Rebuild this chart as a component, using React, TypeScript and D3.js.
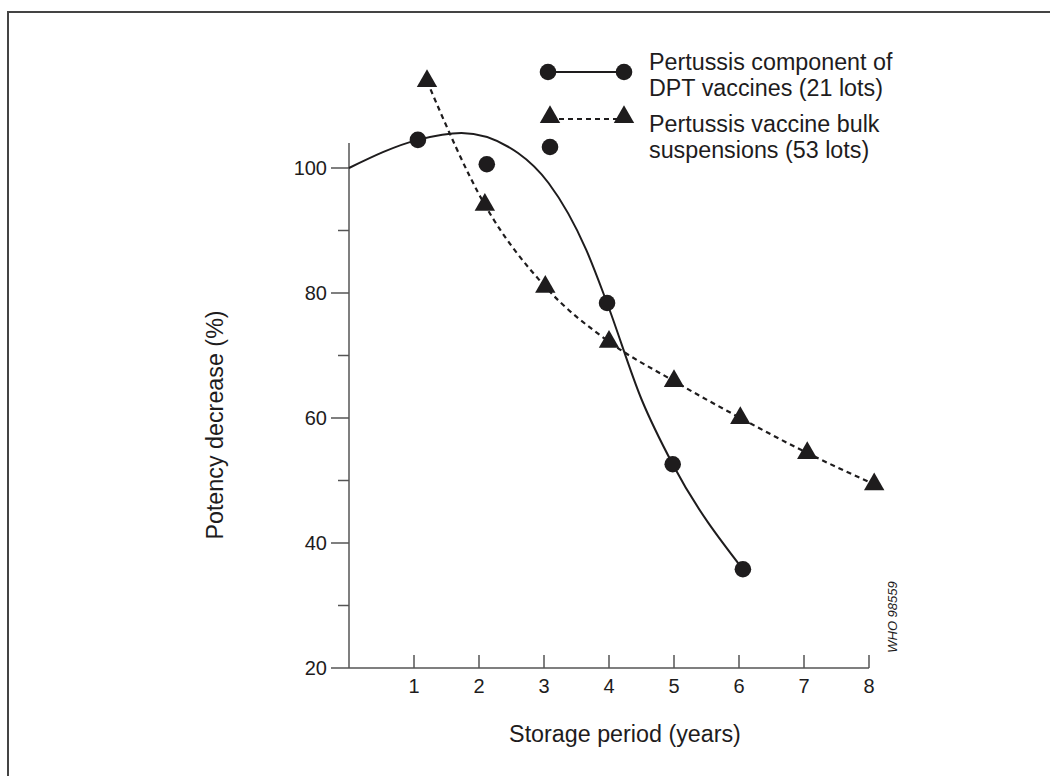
import { useEffect, useRef } from 'react';
import * as d3 from 'd3';

// Axis ticks
const xTicks = [1, 2, 3, 4, 5, 6, 7, 8];
const yMajorTicks = [20, 40, 60, 80, 100];
const yMinorTicks = [30, 50, 70, 90];

// Pertussis component of DPT vaccines (measured points)
const dptYears = [1.06, 2.12, 3.97, 4.98, 6.06];
const dptPotency = [104.5, 100.6, 78.4, 52.6, 35.8];

// Fitted curve drawn through the DPT data
const dptCurveYears = [0, 1.06, 1.73, 2.6, 3.07, 3.65, 3.97, 4.5, 4.98, 6.06];
const dptCurvePotency = [100, 104.5, 105.6, 102.4, 97.6, 86.9, 78.4, 63, 52.6, 35.8];

// Pertussis vaccine bulk suspensions
const bulkYears = [1.2, 2.09, 3.02, 4.0, 5.0, 6.02, 7.05, 8.08];
const bulkPotency = [113.9, 94.1, 81.0, 72.2, 65.9, 60.0, 54.4, 49.4];

const legendLines = [
    ['Pertussis component of', 'DPT vaccines (21 lots)'],
    ['Pertussis vaccine bulk', 'suspensions (53 lots)'],
];

export default function App() {
    const svgRef = useRef<SVGSVGElement>(null);

    useEffect(() => {
        const svg = d3.select(svgRef.current);
        svg.selectAll('*').remove();

        const font = 'Liberation Sans, Arial, Helvetica, sans-serif';
        const ink = '#1e1c1d';
        const axisColor = '#555';

        // Frame (only top and left edges are in view)
        svg.append('path')
            .attr('d', 'M8,1100 L8,12 L1100,12')
            .attr('fill', 'none')
            .attr('stroke', '#444')
            .attr('stroke-width', 2);

        // Scales
        const x = d3.scaleLinear().domain([0, 8]).range([349, 869]);
        const y = d3.scaleLinear().domain([20, 104]).range([668, 143]);

        // Axes
        const axes = svg.append('g').attr('stroke', axisColor).attr('stroke-width', 1.5);
        axes.append('line')
            .attr('x1', x(0)).attr('x2', x(0))
            .attr('y1', y(20)).attr('y2', y(104));
        axes.append('line')
            .attr('x1', x(0)).attr('x2', x(8))
            .attr('y1', y(20)).attr('y2', y(20));

        axes.selectAll('.xtick')
            .data(xTicks)
            .enter()
            .append('line')
            .attr('x1', (d) => x(d)).attr('x2', (d) => x(d))
            .attr('y1', y(20)).attr('y2', y(20) - 13);

        axes.selectAll('.ymajor')
            .data(yMajorTicks)
            .enter()
            .append('line')
            .attr('x1', x(0) - 18).attr('x2', x(0))
            .attr('y1', (d) => y(d)).attr('y2', (d) => y(d));

        axes.selectAll('.yminor')
            .data(yMinorTicks)
            .enter()
            .append('line')
            .attr('x1', x(0) - 11).attr('x2', x(0))
            .attr('y1', (d) => y(d)).attr('y2', (d) => y(d));

        // Tick labels
        svg.selectAll('.xlabel')
            .data(xTicks)
            .enter()
            .append('text')
            .attr('x', (d) => x(d))
            .attr('y', y(20) + 25)
            .attr('text-anchor', 'middle')
            .style('font-family', font)
            .style('font-size', '20px')
            .attr('fill', ink)
            .text((d) => d);

        svg.selectAll('.ylabel')
            .data(yMajorTicks)
            .enter()
            .append('text')
            .attr('x', x(0) - 22)
            .attr('y', (d) => y(d) + 7)
            .attr('text-anchor', 'end')
            .style('font-family', font)
            .style('font-size', '20px')
            .attr('fill', ink)
            .text((d) => d);

        // Axis titles
        svg.append('text')
            .attr('x', 625)
            .attr('y', 742)
            .attr('text-anchor', 'middle')
            .style('font-family', font)
            .style('font-size', '23.3px')
            .attr('fill', ink)
            .text('Storage period (years)');

        svg.append('text')
            .attr('transform', 'translate(223,425) rotate(-90)')
            .attr('text-anchor', 'middle')
            .style('font-family', font)
            .style('font-size', '23.3px')
            .attr('fill', ink)
            .text('Potency decrease (%)');

        svg.append('text')
            .attr('transform', 'translate(897,617) rotate(-90)')
            .attr('text-anchor', 'middle')
            .style('font-family', font)
            .style('font-size', '13px')
            .style('font-style', 'italic')
            .attr('fill', ink)
            .text('WHO 98559');

        // Curves
        const dptLine = d3.line<number>()
            .x((d) => x(dptCurveYears[d]))
            .y((d) => y(dptCurvePotency[d]))
            .curve(d3.curveMonotoneX);

        svg.append('path')
            .attr('d', dptLine(d3.range(dptCurveYears.length)))
            .attr('fill', 'none')
            .attr('stroke', ink)
            .attr('stroke-width', 2);

        const bulkLine = d3.line<number>()
            .x((d) => x(bulkYears[d]))
            .y((d) => y(bulkPotency[d]))
            .curve(d3.curveMonotoneX);

        svg.append('path')
            .attr('d', bulkLine(d3.range(bulkYears.length)))
            .attr('fill', 'none')
            .attr('stroke', ink)
            .attr('stroke-width', 2.2)
            .attr('stroke-dasharray', '5,4');

        // Markers
        svg.selectAll('.dpt')
            .data(dptYears)
            .enter()
            .append('circle')
            .attr('cx', (d) => x(d))
            .attr('cy', (d, i) => y(dptPotency[i]))
            .attr('r', 8.3)
            .attr('fill', ink);

        const triangle = d3.symbol().type(d3.symbolTriangle).size(180);
        svg.selectAll('.bulk')
            .data(bulkYears)
            .enter()
            .append('path')
            .attr('d', triangle)
            .attr('transform', (d, i) => `translate(${x(d)},${y(bulkPotency[i])})`)
            .attr('fill', ink);

        // Legend
        const legend = svg.append('g');
        legend.append('line')
            .attr('x1', 548).attr('x2', 624)
            .attr('y1', 72).attr('y2', 72)
            .attr('stroke', ink).attr('stroke-width', 2);
        [548, 624].forEach((cx) => {
            legend.append('circle').attr('cx', cx).attr('cy', 72).attr('r', 8.3).attr('fill', ink);
        });

        legend.append('line')
            .attr('x1', 550).attr('x2', 624)
            .attr('y1', 119).attr('y2', 119)
            .attr('stroke', ink).attr('stroke-width', 2)
            .attr('stroke-dasharray', '5,4');
        [550, 624].forEach((cx) => {
            legend.append('path')
                .attr('d', triangle)
                .attr('transform', `translate(${cx},117)`)
                .attr('fill', ink);
        });
        legend.append('circle').attr('cx', 550).attr('cy', 147).attr('r', 8.3).attr('fill', ink);

        legendLines.forEach((lines, i) => {
            lines.forEach((line, j) => {
                legend.append('text')
                    .attr('x', 649)
                    .attr('y', 70 + i * 62 + j * 26)
                    .style('font-family', font)
                    .style('font-size', '23.3px')
                    .attr('fill', ink)
                    .text(line);
            });
        });
    }, []);

    return (
        <div style={{ position: 'absolute', left: 0, top: 0 }}>
            <svg ref={svgRef} width={1050} height={776} style={{ display: 'block', background: '#fff' }}></svg>
        </div>
    );
}
